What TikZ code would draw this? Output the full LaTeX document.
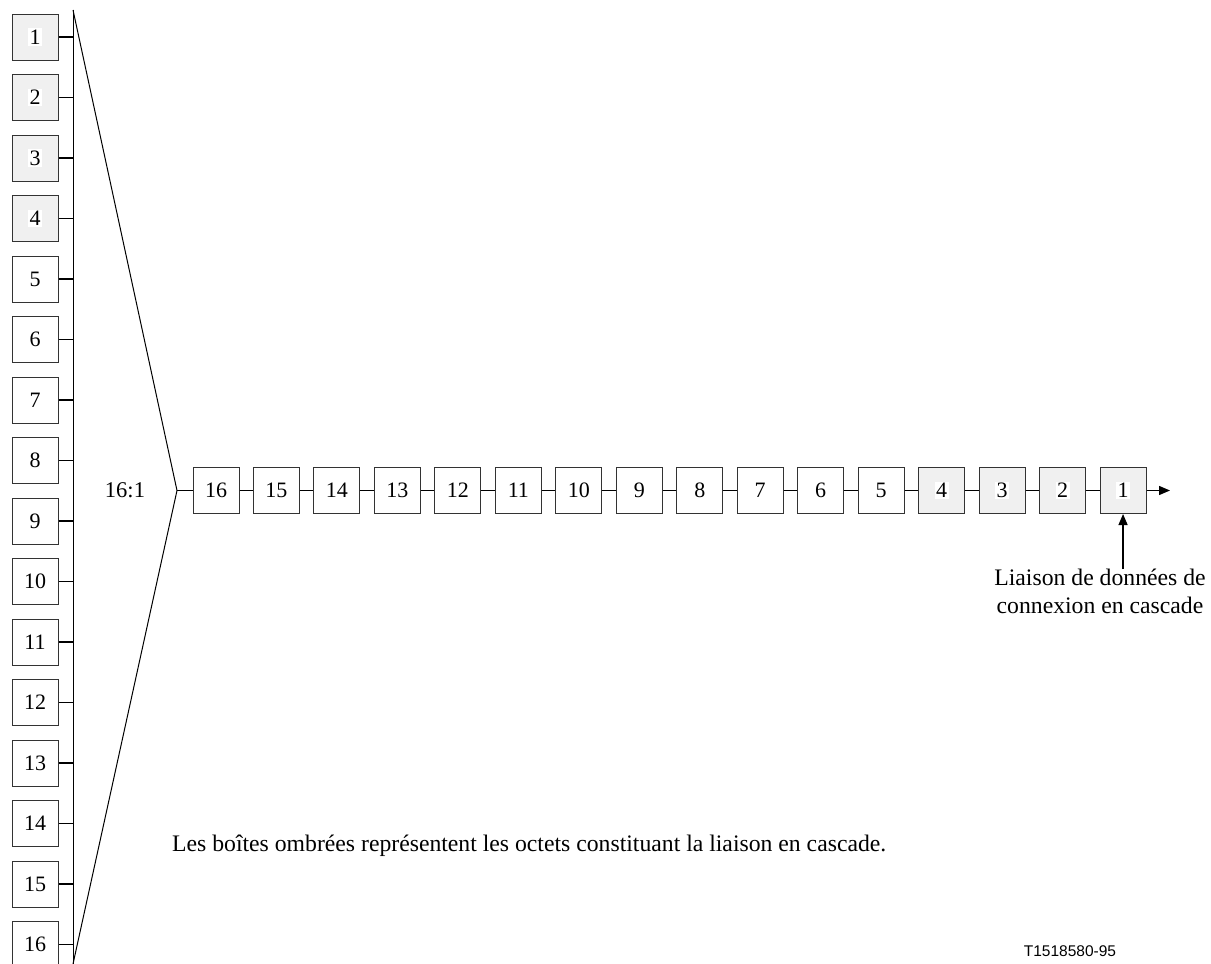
\documentclass[tikz,border=0pt]{standalone}
\usepackage{fontspec}
\setmainfont{Liberation Serif}
\newfontfamily\sansf{Liberation Sans}
\usetikzlibrary{arrows.meta}
\tikzset{
  octet/.style={draw=black!80, line width=1pt, minimum width=46pt, minimum height=46pt, inner sep=0pt, fill=white, font=\fontsize{22}{26}\selectfont},
  shaded/.style={octet, fill=black!6},
  conn/.style={line width=1.3pt},
  thin/.style={line width=1pt},
  digit/.style={fill=white, inner sep=1.5pt, font=\fontsize{22}{26}\selectfont},
  lab/.style={font=\fontsize{23.7}{28.3}\selectfont, inner sep=0pt},
  tip/.style={-{Triangle[length=11pt,width=9pt]}}
}
\begin{document}
\begin{tikzpicture}[x=1pt,y=-1pt]
\useasboundingbox (0,0) rectangle (1211,964);
% bus and fan-in
\coordinate (bustop) at (73,10);
\coordinate (busbot) at (73,964);
\coordinate (apex) at (177,490.5);
\draw[thin] (bustop) -- (busbot);
\draw[thin] (bustop) -- (apex) -- (busbot);
% left column
\foreach \i in {1,...,16}{
  \pgfmathsetmacro{\yy}{37+60.5*(\i-1)}
  \ifnum\i<5
    \node[shaded] (c\i) at (35,\yy) {};
    \node[digit] (c\i d) at (c\i.center) {\i};
  \else
    \node[octet] (c\i) at (35,\yy) {\i};
  \fi
  \draw[conn] (c\i.east) -- (c\i.east -| bustop);
}
% row
\foreach \k in {1,...,16}{
  \pgfmathsetmacro{\xx}{216+60.47*(16-\k)}
  \ifnum\k<5
    \node[shaded] (r\k) at (\xx,490.5) {};
    \node[digit] (r\k d) at (r\k.center) {\k};
  \else
    \node[octet] (r\k) at (\xx,490.5) {\k};
  \fi
}
\draw[conn] (apex) -- (r16.west);
\foreach \k [evaluate=\k as \n using int(\k-1)] in {2,...,16}{
  \draw[conn] (r\k.east) -- (r\n.west);
}
\coordinate (out) at (1170,490.5);
\draw[conn,tip] (r1.east) -- (out);
% label
\node[lab, align=center, anchor=north] (lbl) at (1100,569) {Liaison de données de\\connexion en cascade};
\draw[conn,tip] (lbl.north -| r1) -- (r1.south);
\node[font=\fontsize{22.5}{26}\selectfont, inner sep=0pt] (ratio) at (125,490.5) {16:1};
\node[lab, anchor=base west] (note) at (172,851) {Les boîtes ombrées représentent les octets constituant la liaison en cascade.};
\node[inner sep=0pt, font=\sansf\fontsize{15.5}{18}\selectfont] (ref) at (1070,951) {T1518580-95};
\end{tikzpicture}
\end{document}
